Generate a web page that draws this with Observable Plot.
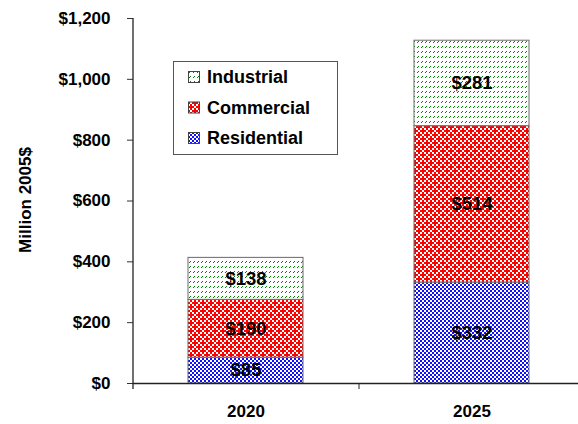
<!DOCTYPE html>
<html>
<head>
<meta charset="utf-8">
<script src="https://cdn.jsdelivr.net/npm/d3@7"></script>
<script src="https://cdn.jsdelivr.net/npm/@observablehq/plot@0.6"></script>
<style>
  html, body { margin: 0; padding: 0; background: #fff; }
</style>
</head>
<body>
<div id="chart"></div>
<script>
// ---- data ----
const years = ["2020", "2025"];
const categories = ["Residential", "Commercial", "Industrial"];
const residential = [85, 332];
const commercial = [190, 514];
const industrial = [138, 281];
const yTicks = [0, 200, 400, 600, 800, 1000, 1200];
const legendOrder = ["Industrial", "Commercial", "Residential"];
const yLabel = "Million 2005$";

const seriesValues = { Residential: residential, Commercial: commercial, Industrial: industrial };
const rows = [];
years.forEach((yr, i) => {
  categories.forEach(c => rows.push({ year: yr, cat: c, value: seriesValues[c][i] }));
});

const patternIds = { Residential: "pat-res", Commercial: "pat-com", Industrial: "pat-ind" };
const fills = categories.map(c => `url(#${patternIds[c]})`);

const W = 578, H = 424;
const xRange = [133, 585];
const plotTop = 18, plotBase = H - 41;

const plot = Plot.plot({
  width: W,
  height: H,
  marginLeft: 133,
  marginRight: 0,
  marginTop: plotTop,
  marginBottom: 41,
  style: { fontFamily: "'Liberation Sans', Arial, sans-serif", fontSize: "17px", fontWeight: "bold", color: "#000", background: "#fff" },
  x: { domain: years, range: xRange, paddingInner: 0.49, paddingOuter: 0.245, label: null },
  y: { domain: [0, 1200], label: null },
  color: { type: "ordinal", domain: categories, range: fills },
  marks: [
    Plot.barY(rows, Plot.stackY({ x: "year", y: "value", z: "cat", fill: "cat", stroke: "#6b6b6b", strokeWidth: 1, order: categories })),
    Plot.text(rows, Plot.stackY({ x: "year", y: "value", z: "cat", order: categories, text: d => "$" + d.value, fontSize: 18.5, fontWeight: "bold", fill: "#000" })),
    Plot.axisY({ ticks: yTicks, tickFormat: d3.format("$,"), tickSize: 6, tickPadding: 17, label: null, stroke: "#333" }),
    Plot.axisX({ tickSize: 0, tickPadding: 21, label: null }),
    Plot.ruleY([0], { stroke: "#222", strokeWidth: 1.3 })
  ]
});

document.getElementById("chart").appendChild(plot);

// ---- patterns (cells of `cell` px, aligned to even pixels) ----
const svg = d3.select(plot);
const defs = svg.insert("defs", ":first-child");

function makePattern(id, size, cell, bg, fg, cells) {
  const p = defs.append("pattern").attr("id", id).attr("patternUnits", "userSpaceOnUse")
    .attr("width", size[0] * cell).attr("height", size[1] * cell);
  p.append("rect").attr("width", size[0] * cell).attr("height", size[1] * cell).attr("fill", bg).attr("shape-rendering", "crispEdges");
  cells.forEach(([x, y]) => p.append("rect").attr("x", x * cell).attr("y", y * cell).attr("width", cell).attr("height", cell)
    .attr("fill", fg).attr("shape-rendering", "crispEdges"));
  return p;
}
// Residential: blue / white checkerboard
makePattern("pat-res", [2, 2], 2, "#ffffff", "#1010ff", [[0,0],[1,1]]);
// Commercial: red with white weave dots
makePattern("pat-com", [4, 4], 2, "#ff0000", "#ffffff", [[0,0],[2,0],[1,1],[0,2],[2,2],[3,3]]);
// Industrial: white with short green diagonal dashes
makePattern("pat-ind", [4, 5], 1, "#ffffff", "#008000", [[1,2],[2,1]]);

// ---- axis lines & between-category ticks ----
svg.append("line").attr("x1", xRange[0]).attr("x2", xRange[0]).attr("y1", plotTop).attr("y2", plotBase + 6)
  .attr("stroke", "#222").attr("stroke-width", 1.3);
const step = (xRange[1] - xRange[0]) / years.length;
for (let i = 1; i <= years.length; i++) {
  const xb = xRange[0] + i * step;
  svg.append("line").attr("x1", xb).attr("x2", xb).attr("y1", plotBase).attr("y2", plotBase + 6).attr("stroke", "#222");
}

// ---- y label ----
svg.append("text").attr("transform", `translate(25,200) rotate(-90)`)
  .attr("text-anchor", "middle").attr("dy", "0.35em")
  .attr("font-size", 17).attr("font-weight", "bold").text(yLabel);

// ---- legend ----
const lg = svg.append("g").attr("text-anchor", "start");
lg.append("rect").attr("x", 173.5).attr("y", 61.5).attr("width", 164).attr("height", 93)
  .attr("fill", "#fff").attr("stroke", "#555").attr("stroke-width", 1);
legendOrder.forEach((c, i) => {
  const cy = 77 + i * 30.5;
  lg.append("rect").attr("x", 188.5).attr("y", cy - 5.5).attr("width", 11).attr("height", 11)
    .attr("fill", `url(#${patternIds[c]})`).attr("stroke", "#444").attr("stroke-width", 1);
  lg.append("text").attr("x", 207).attr("y", cy).attr("dy", "0.36em").attr("text-anchor", "start")
    .attr("font-size", 18).attr("font-weight", "bold").text(c);
});
</script>
</body>
</html>
